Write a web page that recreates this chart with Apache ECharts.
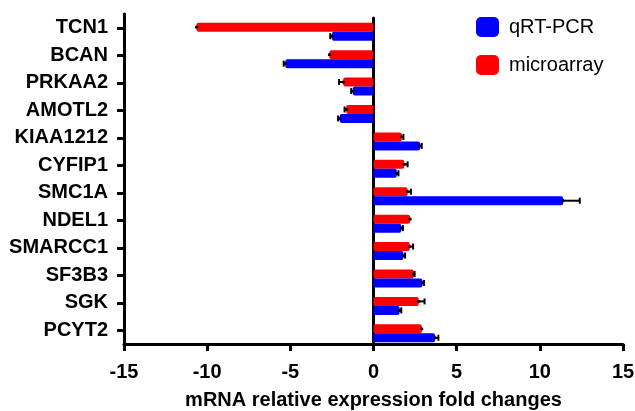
<!DOCTYPE html>
<html><head><meta charset="utf-8">
<script src="https://cdn.jsdelivr.net/npm/echarts@6/dist/echarts.min.js"></script>
<style>html,body{margin:0;padding:0;background:#fff}#c{width:635px;height:411px}</style>
</head><body><div id="c"></div>
<script>
var categories = ['TCN1','BCAN','PRKAA2','AMOTL2','KIAA1212','CYFIP1','SMC1A','NDEL1','SMARCC1','SF3B3','SGK','PCYT2'];
var qrtpcr     = [-2.5, -5.3, -1.24, -2.03, 2.8, 1.4, 11.4, 1.67, 1.8, 2.94, 1.57, 3.7];
var qrtpcrErr  = [0.1, 0.1, 0.1, 0.1, 0.1, 0.1, 1.0, 0.1, 0.1, 0.1, 0.1, 0.2];
var microarray = [-10.64, -2.65, -1.82, -1.64, 1.7, 1.85, 2.05, 2.2, 2.18, 2.42, 2.72, 2.9];
var microErr   = [0, 0, 0.25, 0.1, 0.1, 0.2, 0.2, 0, 0.2, 0.05, 0.35, 0];
var xTicks = [-15, -10, -5, 0, 5, 10, 15];

var FONT = 'Liberation Sans, Arial, sans-serif';
var chart = echarts.init(document.getElementById('c'));

function errItem(vals, errs, side) {
  return function (params, api) {
    var i = params.dataIndex;
    var v = vals[i], e = errs[i];
    var sgn = v < 0 ? -1 : 1;
    var c0 = api.coord([v, i]);
    var c1 = api.coord([v + sgn * e, i]);
    var y = c0[1] + side * 4.5;
    var children = [
      {type: 'circle', shape: {cx: c0[0], cy: y, r: 1.6}, style: {fill: '#000'}}
    ];
    if (e > 0) {
      children.push({type: 'line', shape: {x1: c0[0], y1: y, x2: c1[0], y2: y}, style: {stroke: '#000', lineWidth: 2}});
      children.push({type: 'line', shape: {x1: c1[0], y1: y - 3, x2: c1[0], y2: y + 3}, style: {stroke: '#000', lineWidth: 2}});
    }
    return {type: 'group', children: children};
  };
}

chart.setOption({
  animation: false,
  backgroundColor: '#fff',
  legend: {
    orient: 'vertical', left: 471, top: 12, itemWidth: 23, itemHeight: 20, itemGap: 18,
    icon: 'roundRect',
    textStyle: {fontFamily: FONT, fontSize: 20, color: '#000', padding: [0, 0, 0, 5]},
    data: ['qRT-PCR', 'microarray']
  },
  grid: [
    {left: 124, right: 12, top: 14, height: 330, containLabel: false, outerBoundsMode: 'none'},
    {left: 124, right: 12, top: 18, height: 329, containLabel: false, outerBoundsMode: 'none'}
  ],
  xAxis: [
    {gridIndex: 0, type: 'value', min: -15, max: 15, interval: 5,
     axisLine: {show: true, onZero: false, lineStyle: {color: '#000', width: 3}},
     axisTick: {show: true, length: 7, lineStyle: {color: '#000', width: 3}},
     splitLine: {show: false},
     axisLabel: {fontFamily: FONT, fontSize: 20, fontWeight: 'bold', color: '#000', margin: 18,
       formatter: function (v) { return xTicks.indexOf(v) >= 0 ? String(v) : ''; }},
     name: 'mRNA relative expression fold changes', nameLocation: 'middle', nameGap: 46,
     nameTextStyle: {fontFamily: FONT, fontSize: 20, fontWeight: 'bold', color: '#000'}},
    {gridIndex: 1, type: 'value', min: -15, max: 15, interval: 5, show: false}
  ],
  yAxis: [
    {gridIndex: 0, type: 'category', data: categories, inverse: true,
     axisLine: {show: true, onZero: false, lineStyle: {color: '#000', width: 3}},
     axisTick: {show: true, alignWithLabel: true, length: 7, lineStyle: {color: '#000', width: 3}},
     axisLabel: {fontFamily: FONT, fontSize: 20, fontWeight: 'bold', color: '#000', margin: 16}},
    {gridIndex: 1, type: 'category', data: categories, inverse: true,
     axisLine: {show: true, onZero: true, lineStyle: {color: '#000', width: 3}},
     axisTick: {show: false}, axisLabel: {show: false}, splitLine: {show: false}}
  ],
  series: [
    {name: 'microarray', type: 'bar', xAxisIndex: 1, yAxisIndex: 1, data: microarray,
     barWidth: 9, barGap: '0%', itemStyle: {color: '#FF0000', borderRadius: 2}},
    {name: 'qRT-PCR', type: 'bar', xAxisIndex: 1, yAxisIndex: 1, data: qrtpcr,
     barWidth: 9, barGap: '0%', itemStyle: {color: '#0000FF', borderRadius: 2}},
    {type: 'custom', xAxisIndex: 1, yAxisIndex: 1, data: qrtpcr.map(function (v, i) { return [v, i]; }),
     renderItem: errItem(qrtpcr, qrtpcrErr, 1), z: 5, silent: true},
    {type: 'custom', xAxisIndex: 1, yAxisIndex: 1, data: microarray.map(function (v, i) { return [v, i]; }),
     renderItem: errItem(microarray, microErr, -1), z: 5, silent: true}
  ]
});
</script></body></html>
